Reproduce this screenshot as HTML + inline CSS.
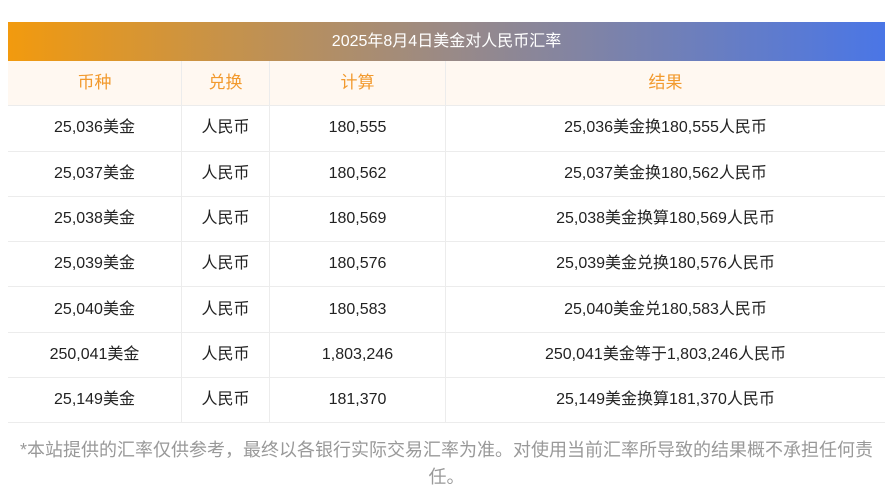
<!DOCTYPE html>
<html><head><meta charset="utf-8"><style>
body{margin:0;width:893px;height:500px;background:#fff;font-family:"Liberation Sans","Noto Sans CJK SC",sans-serif;position:relative;overflow:hidden}
.t{position:absolute;left:8px;top:22px;width:877px;height:39px;background:linear-gradient(90deg,#f29a0e,#9a8a86 50%,#4a76e6);color:#fff;font-size:16px;line-height:39px;text-align:center}
table{position:absolute;left:8px;top:61px;width:877px;border-collapse:collapse;font-size:16px;color:#222}
td{border:1px solid #ececec;text-align:center;height:44.3px;padding:0;line-height:20px;vertical-align:middle}
tr:first-child td{background:#fff8f1;color:#f29a2e;border-top:none;font-size:17px}
tr td:first-child{border-left:none}tr td:last-child{border-right:none}
.f{position:absolute;left:18px;top:437px;width:857px;text-align:center;color:#999;font-size:18px;line-height:27px}
</style></head><body>
<div class="t">2025年8月4日美金对人民币汇率</div>
<table>
<tr><td style="width:173px">币种</td><td style="width:87px">兑换</td><td style="width:175px">计算</td><td>结果</td></tr>
<tr><td>25,036美金</td><td>人民币</td><td>180,555</td><td>25,036美金换180,555人民币</td></tr>
<tr><td>25,037美金</td><td>人民币</td><td>180,562</td><td>25,037美金换180,562人民币</td></tr>
<tr><td>25,038美金</td><td>人民币</td><td>180,569</td><td>25,038美金换算180,569人民币</td></tr>
<tr><td>25,039美金</td><td>人民币</td><td>180,576</td><td>25,039美金兑换180,576人民币</td></tr>
<tr><td>25,040美金</td><td>人民币</td><td>180,583</td><td>25,040美金兑180,583人民币</td></tr>
<tr><td>250,041美金</td><td>人民币</td><td>1,803,246</td><td>250,041美金等于1,803,246人民币</td></tr>
<tr><td>25,149美金</td><td>人民币</td><td>181,370</td><td>25,149美金换算181,370人民币</td></tr>
</table>
<div class="f">*本站提供的汇率仅供参考，最终以各银行实际交易汇率为准。对使用当前汇率所导致的结果概不承担任何责任。</div>
</body></html>
